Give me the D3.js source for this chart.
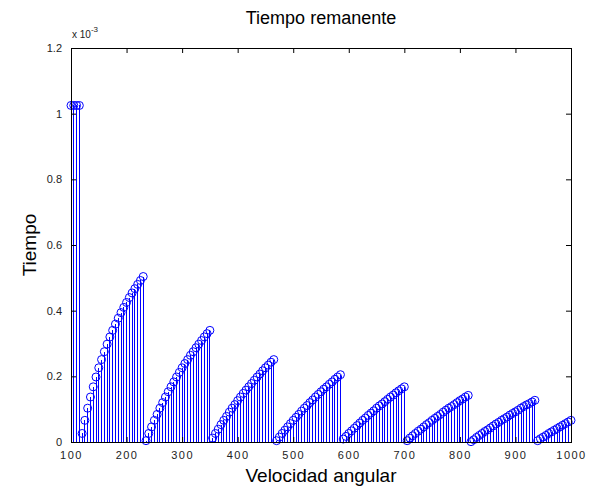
<!DOCTYPE html>
<html>
<head>
<meta charset="utf-8">
<script src="https://cdn.jsdelivr.net/npm/d3@7"></script>
<style>
  body { margin: 0; background: #fff; }
  text { font-family: "Liberation Sans", Arial, sans-serif; }
</style>
</head>
<body>
<div id="area_stem"></div>
<script>
// velocidad angular, one row per tramo of the sawtooth
const velocidad = [
  100, 105, 110, 115,
  120, 125, 130, 135, 140, 145, 150, 155, 160, 165, 170, 175, 180, 185, 190, 195, 200, 205, 210, 215, 220, 225, 230,
  235, 240, 245, 250, 255, 260, 265, 270, 275, 280, 285, 290, 295, 300, 305, 310, 315, 320, 325, 330, 335, 340, 345, 350,
  355, 360, 365, 370, 375, 380, 385, 390, 395, 400, 405, 410, 415, 420, 425, 430, 435, 440, 445, 450, 455, 460, 465,
  470, 475, 480, 485, 490, 495, 500, 505, 510, 515, 520, 525, 530, 535, 540, 545, 550, 555, 560, 565, 570, 575, 580, 585,
  590, 595, 600, 605, 610, 615, 620, 625, 630, 635, 640, 645, 650, 655, 660, 665, 670, 675, 680, 685, 690, 695, 700,
  705, 710, 715, 720, 725, 730, 735, 740, 745, 750, 755, 760, 765, 770, 775, 780, 785, 790, 795, 800, 805, 810, 815,
  820, 825, 830, 835, 840, 845, 850, 855, 860, 865, 870, 875, 880, 885, 890, 895, 900, 905, 910, 915, 920, 925, 930, 935,
  940, 945, 950, 955, 960, 965, 970, 975, 980, 985, 990, 995, 1000
];

// tiempo remanente in units of 1e-3
const tiempo = [
  1.025, 1.025, 1.025, 1.025,
  0.026, 0.066, 0.103, 0.137, 0.168, 0.198, 0.226, 0.251, 0.275, 0.298, 0.320, 0.340, 0.359, 0.377, 0.394, 0.410, 0.425, 0.440, 0.454, 0.467, 0.480, 0.492, 0.504,
  0.004, 0.026, 0.046, 0.066, 0.084, 0.103, 0.120, 0.137, 0.153, 0.168, 0.183, 0.198, 0.212, 0.226, 0.239, 0.251, 0.264, 0.275, 0.287, 0.298, 0.309, 0.320, 0.330, 0.340,
  0.012, 0.026, 0.039, 0.053, 0.066, 0.078, 0.091, 0.103, 0.114, 0.126, 0.137, 0.148, 0.158, 0.168, 0.178, 0.188, 0.198, 0.207, 0.217, 0.226, 0.234, 0.243, 0.251,
  0.004, 0.015, 0.026, 0.036, 0.046, 0.056, 0.066, 0.075, 0.084, 0.094, 0.103, 0.111, 0.120, 0.128, 0.137, 0.145, 0.153, 0.161, 0.168, 0.176, 0.183, 0.191, 0.198, 0.205,
  0.009, 0.017, 0.026, 0.034, 0.042, 0.050, 0.058, 0.066, 0.073, 0.081, 0.088, 0.095, 0.103, 0.110, 0.116, 0.123, 0.130, 0.137, 0.143, 0.150, 0.156, 0.162, 0.168,
  0.004, 0.012, 0.019, 0.026, 0.033, 0.039, 0.046, 0.053, 0.059, 0.066, 0.072, 0.078, 0.084, 0.091, 0.097, 0.103, 0.108, 0.114, 0.120, 0.126, 0.131, 0.137, 0.142,
  0.001, 0.007, 0.014, 0.020, 0.026, 0.032, 0.037, 0.043, 0.049, 0.055, 0.060, 0.066, 0.071, 0.076, 0.082, 0.087, 0.092, 0.097, 0.103, 0.108, 0.113, 0.117, 0.122, 0.127,
  0.004, 0.010, 0.015, 0.020, 0.026, 0.031, 0.036, 0.041, 0.046, 0.051, 0.056, 0.061, 0.066
];

const xTicks = [100, 200, 300, 400, 500, 600, 700, 800, 900, 1000];
const yTicks = [0, 0.2, 0.4, 0.6, 0.8, 1, 1.2];

const data = velocidad.map((v, i) => ({ v: v, t: tiempo[i] }));

let dimensions = {
  width: 593,
  height: 491,
  margin: { top: 48, left: 71, right: 22, bottom: 49 }
};
dimensions.boundedWidth = dimensions.width - dimensions.margin.left - dimensions.margin.right;
dimensions.boundedHeight = dimensions.height - dimensions.margin.top - dimensions.margin.bottom;

const svg = d3.select("#area_stem").append("svg")
  .attr("width", dimensions.width)
  .attr("height", dimensions.height);

svg.append("rect").attr("width", dimensions.width).attr("height", dimensions.height).attr("fill", "#fff");

const bounded = svg.append("g")
  .attr("transform", `translate(${dimensions.margin.left},${dimensions.margin.top})`);

const xScale = d3.scaleLinear().domain([100, 1000]).range([0, dimensions.boundedWidth]);
const yScale = d3.scaleLinear().domain([0, 1.2]).range([dimensions.boundedHeight, 0]);

// stems
bounded.append("g").selectAll("line")
  .data(data)
  .join("line")
  .attr("x1", d => xScale(d.v)).attr("x2", d => xScale(d.v))
  .attr("y1", yScale(0)).attr("y2", d => yScale(d.t))
  .attr("stroke", "#0000ff")
  .attr("stroke-width", 1)
  .attr("shape-rendering", "crispEdges");

// markers
bounded.append("g").selectAll("circle")
  .data(data)
  .join("circle")
  .attr("cx", d => xScale(d.v))
  .attr("cy", d => yScale(d.t))
  .attr("r", 4)
  .attr("fill", "none")
  .attr("stroke", "#0000ff")
  .attr("stroke-width", 1);

// axes, matlab style: ticks pointing inwards on all four sides
const tickLen = 5;
const axisStyle = g => {
  g.select(".domain").remove();
  g.selectAll(".tick line").attr("stroke", "#000");
  g.selectAll(".tick text").attr("fill", "#222").style("font-size", "11px");
};

bounded.append("g")
  .attr("transform", `translate(0,${dimensions.boundedHeight})`)
  .call(d3.axisBottom(xScale).tickValues(xTicks).tickSizeInner(-tickLen).tickSizeOuter(0).tickPadding(9).tickFormat(d3.format("d")))
  .call(axisStyle)
  .call(g => g.selectAll(".tick text").attr("letter-spacing", "1.5px"));

bounded.append("g")
  .call(d3.axisTop(xScale).tickValues(xTicks).tickSizeInner(-tickLen).tickSizeOuter(0).tickFormat(""))
  .call(axisStyle);

bounded.append("g")
  .call(d3.axisLeft(yScale).tickValues(yTicks).tickSizeInner(-tickLen).tickSizeOuter(0).tickPadding(9).tickFormat(d3.format("~g")))
  .call(axisStyle);

bounded.append("g")
  .attr("transform", `translate(${dimensions.boundedWidth},0)`)
  .call(d3.axisRight(yScale).tickValues(yTicks).tickSizeInner(-tickLen).tickSizeOuter(0).tickFormat(""))
  .call(axisStyle);

bounded.append("rect")
  .attr("width", dimensions.boundedWidth)
  .attr("height", dimensions.boundedHeight)
  .attr("fill", "none")
  .attr("stroke", "#000")
  .attr("stroke-width", 1)
  .attr("shape-rendering", "crispEdges");

// exponent label
const expo = svg.append("text")
  .attr("x", dimensions.margin.left + 1)
  .attr("y", dimensions.margin.top - 10)
  .attr("fill", "#222")
  .style("font-size", "10px");
expo.append("tspan").text("x 10");
expo.append("tspan").attr("dy", -6).style("font-size", "8px").text("-3");

// title and labels
svg.append("text")
  .attr("x", dimensions.margin.left + dimensions.boundedWidth / 2)
  .attr("y", 24)
  .attr("text-anchor", "middle")
  .style("font-size", "18px")
  .text("Tiempo remanente");

svg.append("text")
  .attr("x", dimensions.margin.left + dimensions.boundedWidth / 2)
  .attr("y", 482)
  .attr("text-anchor", "middle")
  .style("font-size", "19px")
  .text("Velocidad angular");

svg.append("text")
  .attr("transform", `translate(36,${dimensions.margin.top + dimensions.boundedHeight / 2}) rotate(-90)`)
  .attr("text-anchor", "middle")
  .style("font-size", "19px")
  .text("Tiempo");
</script>
</body>
</html>
